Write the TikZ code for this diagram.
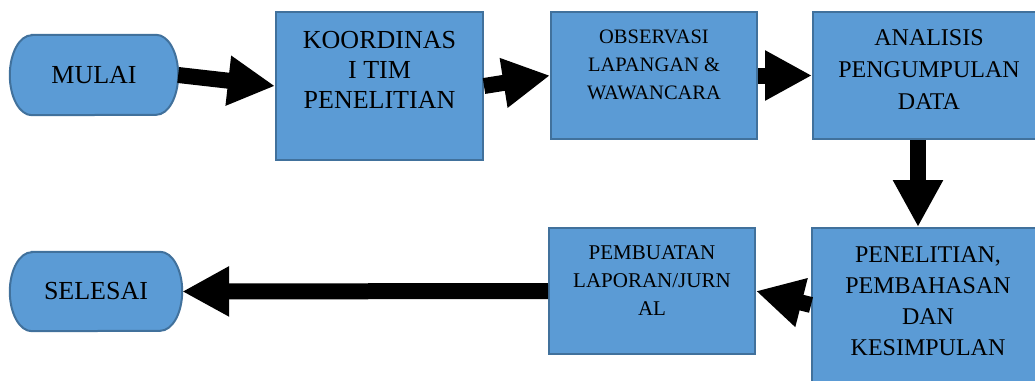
\documentclass[tikz,border=0pt]{standalone}
\usepackage{fontspec}
\setmainfont{Liberation Serif}
\usetikzlibrary{arrows.meta,backgrounds}
\definecolor{boxfill}{HTML}{5B9BD5}
\definecolor{boxline}{HTML}{41719C}
\begin{document}
\begin{tikzpicture}[x=1pt,y=-1pt,
  box/.style={rectangle, draw=boxline, fill=boxfill, line width=2pt, inner sep=0pt},
  term/.style={draw=boxline, fill=boxfill, line width=2pt},
  termtext/.style={inner sep=0pt, font=\fontsize{26}{30}\selectfont},
  lbl/.style={align=center, inner sep=0pt, anchor=north, text=black},
  flow/.style={black, line width=16pt, -{Triangle[length=47pt,width=47pt]}},
]
\useasboundingbox (0,0) rectangle (1035,380);
\clip (0,0) rectangle (1035,380);

% terminators
\node[termtext, minimum width=168pt, minimum height=80pt] (mulai) at (94,75) {MULAI};
\node[termtext, minimum width=172pt, minimum height=79pt] (selesai) at (96,291.5) {SELESAI};
\begin{scope}[on background layer]
  \fill[white] (0,0) rectangle (1035,380);
  \path[term] ([xshift=22pt]mulai.north west) -- ([xshift=-22pt]mulai.north east)
    arc[start angle=90, end angle=-90, x radius=22pt, y radius=40pt]
    -- ([xshift=22pt]mulai.south west)
    arc[start angle=270, end angle=90, x radius=22pt, y radius=40pt] -- cycle;
  \path[term] ([xshift=22pt]selesai.north west) -- ([xshift=-22pt]selesai.north east)
    arc[start angle=90, end angle=-90, x radius=22pt, y radius=39.5pt]
    -- ([xshift=22pt]selesai.south west)
    arc[start angle=270, end angle=90, x radius=22pt, y radius=39.5pt] -- cycle;
\end{scope}

% process boxes
\node[box, minimum width=207pt, minimum height=148pt] (koord) at (379.5,86) {};
\node[box, minimum width=206pt, minimum height=127pt] (obs) at (654,75.5) {};
\node[box, minimum width=232pt, minimum height=127pt] (anal) at (929,75.5) {};
\node[box, minimum width=232pt, minimum height=164pt] (pen) at (928,310) {};
\node[box, minimum width=206pt, minimum height=126pt] (pemb) at (652,291) {};

% texts
\node[lbl, font=\fontsize{26}{30}\selectfont] (kt) at ([yshift=-20pt]koord.north) {KOORDINAS\\I TIM\\PENELITIAN};
\node[lbl, font=\fontsize{20.5}{28}\selectfont] (ot) at ([yshift=-18.5pt]obs.north) {OBSERVASI\\LAPANGAN \&\\WAWANCARA};
\node[lbl, font=\fontsize{24}{32}\selectfont] (at) at ([yshift=-18pt]anal.north) {ANALISIS\\PENGUMPULAN\\DATA};
\node[lbl, font=\fontsize{24}{31}\selectfont] (pt) at ([yshift=-19pt]pen.north) {PENELITIAN,\\PEMBAHASAN\\DAN\\KESIMPULAN};
\node[lbl, font=\fontsize{21}{28}\selectfont] (bt) at ([yshift=-18pt]pemb.north) {PEMBUATAN\\LAPORAN/JURN\\AL};

% connectors
\draw[flow] (mulai.east) -- (koord.west);
\draw[flow] (koord.east) -- (obs.west);
\draw[flow] (obs.east) -- (anal.west);
\draw[flow] ([xshift=-11pt]anal.south) -- ([xshift=-10pt]pen.north);
\draw[flow] ([yshift=5pt]pen.west) -- (pemb.east);
\draw[flow] (pemb.west) -- (selesai.east);
\end{tikzpicture}
\end{document}
